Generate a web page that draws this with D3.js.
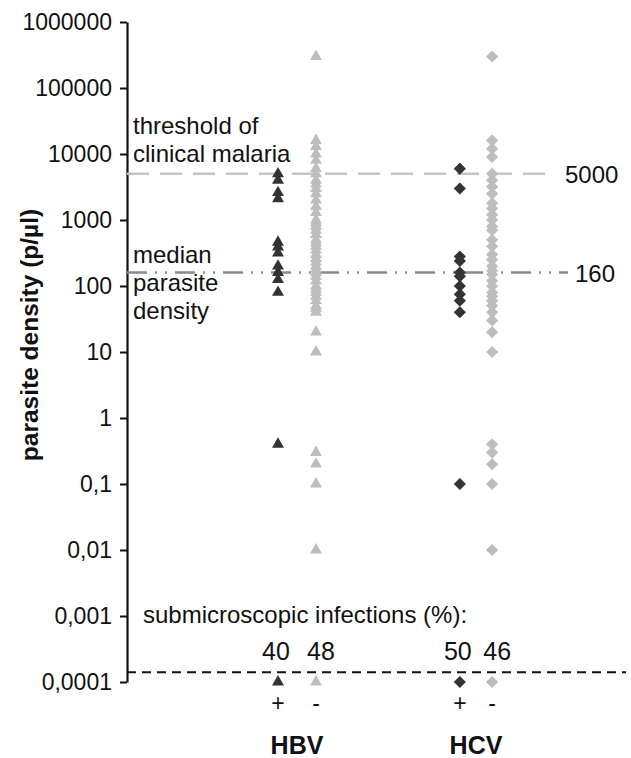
<!DOCTYPE html>
<html>
<head>
<meta charset="utf-8">
<script src="https://cdn.jsdelivr.net/npm/d3@7"></script>
<style>
body { margin: 0; background: #fff; }
svg text { font-family: "Liberation Sans", Arial, sans-serif; fill: #111; }
</style>
</head>
<body>
<svg id="chart" width="631" height="758"></svg>
<script>
// parasite densities per group (p/ul)
var hbvPos = [5000, 4000, 2600, 2100, 460, 390, 315, 200, 160, 125, 80, 0.4, 0.0001];
var hbvNeg = [300000, 16000, 13000, 10000, 8000, 6000, 5000, 4000, 3500, 3000, 2500, 2000, 1600, 1300,
              1000, 900, 800, 700, 600, 500, 450, 400, 350, 300, 260, 230, 200, 180, 160, 140, 120,
              100, 90, 80, 70, 60, 50, 45, 40, 20, 10, 0.3, 0.2, 0.1, 0.01, 0.0001];
var hcvPos = [6000, 3000, 280, 240, 160, 140, 100, 75, 60, 40, 0.1, 0.0001];
var hcvNeg = [300000, 16000, 12000, 9000, 5000, 4000, 3200, 2500, 1800, 1500, 1200, 1000, 800, 700,
              500, 400, 300, 250, 200, 170, 150, 120, 100, 80, 70, 60, 50, 40, 30, 20, 10,
              0.4, 0.3, 0.2, 0.1, 0.01, 0.0001];

var viruses = ["HBV", "HCV"];
var signs = ["+", "-"];
var submicro = [40, 48, 50, 46];   // submicroscopic infections (%) per group
var tickVals = [0.0001, 0.001, 0.01, 0.1, 1, 10, 100, 1000, 10000, 100000, 1000000];
var threshold = 5000;
var median = 160;
var submicroCut = 0.00014;

var groups = [
    {virus: "HBV", sign: "+", values: hbvPos, pct: submicro[0]},
    {virus: "HBV", sign: "-", values: hbvNeg, pct: submicro[1]},
    {virus: "HCV", sign: "+", values: hcvPos, pct: submicro[2]},
    {virus: "HCV", sign: "-", values: hcvNeg, pct: submicro[3]}
];

var svg = d3.select("#chart");
var axisX = 127;

var y = d3.scaleLog().domain([0.0001, 1000000]).range([682, 22]);
var xv = d3.scalePoint().domain(viruses).range([297, 476]);
var xs = d3.scalePoint().domain(signs).range([-19, 19]);
function gx(d) { return xv(d.virus) + xs(d.sign) * (d.virus === "HCV" ? 0.85 : 1); }

var loc = d3.formatLocale({decimal: ",", thousands: "", grouping: [3], currency: ["", ""]});
var fmt = loc.format(".4~f");

//Axis
var yAxis = svg.append("g")
    .attr("transform", "translate(" + axisX + ",0)")
    .call(d3.axisLeft(y).tickValues(tickVals).tickFormat(fmt).tickSize(7).tickSizeOuter(0).tickPadding(8));
yAxis.select(".domain").attr("stroke", "#111").attr("stroke-width", 2.2);
yAxis.selectAll(".tick line").attr("stroke", "#111").attr("stroke-width", 2);
yAxis.selectAll(".tick text")
    .style("font-family", "'Liberation Sans', Arial, sans-serif")
    .style("font-size", "23px")
    .attr("fill", "#111");

svg.append("text")
    .attr("transform", "translate(38," + 335 + ") rotate(-90)")
    .attr("text-anchor", "middle")
    .style("font-size", "24.5px")
    .style("font-weight", "bold")
    .text("parasite density (p/\u00b5l)");

//Reference lines
svg.append("line")
    .attr("x1", axisX).attr("x2", 556)
    .attr("y1", y(threshold)).attr("y2", y(threshold))
    .attr("stroke", "#c4c4c4").attr("stroke-width", 2.5)
    .attr("stroke-dasharray", "22,11");
svg.append("text")
    .attr("x", 565).attr("y", y(threshold) + 9)
    .style("font-size", "24px")
    .text(fmt(threshold));

svg.append("line")
    .attr("x1", axisX).attr("x2", 568)
    .attr("y1", y(median)).attr("y2", y(median))
    .attr("stroke", "#8a8a8a").attr("stroke-width", 2.5)
    .attr("stroke-dasharray", "20,8,2,8,2,8");
svg.append("text")
    .attr("x", 575).attr("y", y(median) + 9)
    .style("font-size", "24px")
    .text(fmt(median));

svg.append("line")
    .attr("x1", axisX).attr("x2", 626)
    .attr("y1", y(submicroCut)).attr("y2", y(submicroCut))
    .attr("stroke", "#111").attr("stroke-width", 2)
    .attr("stroke-dasharray", "9,6");

//Annotations
function lines(arr, x0, ys) {
    arr.forEach(function(t, i) {
        svg.append("text").attr("x", x0).attr("y", ys[i])
            .style("font-size", "24px").text(t);
    });
}
lines(["threshold of", "clinical malaria"], 133, [134, 162]);
lines(["median", "parasite", "density"], 133, [263, 291, 319]);

svg.append("text")
    .attr("x", 143).attr("y", 623)
    .style("font-size", "24px")
    .text("submicroscopic infections (%):");

//Points
var tri = d3.symbol().type(d3.symbolTriangle).size(62);
var dia = d3.symbol().type(d3.symbolSquare).size(74);

groups.forEach(function(g) {
    var col = g.sign === "+" ? "#333333" : "#bdbdbd";
    svg.append("g").selectAll("path")
        .data(g.values)
        .join("path")
        .attr("d", g.virus === "HBV" ? tri : dia)
        .attr("fill", col)
        .attr("transform", function(v) {
            return "translate(" + gx(g) + "," + y(v) + ")" + (g.virus === "HCV" ? " rotate(45)" : "");
        });

    svg.append("text")
        .attr("x", gx(g) + (g.sign === "+" ? -2 : 5)).attr("y", 660)
        .attr("text-anchor", "middle")
        .style("font-size", "25px")
        .text(g.pct);
    svg.append("text")
        .attr("x", gx(g)).attr("y", 711)
        .attr("text-anchor", "middle")
        .style("font-size", "23px")
        .text(g.sign);
});

svg.selectAll(".vlabel")
    .data(viruses)
    .join("text")
    .attr("class", "vlabel")
    .attr("x", function(d) { return xv(d); })
    .attr("y", 754)
    .attr("text-anchor", "middle")
    .style("font-size", "25px")
    .style("font-weight", "bold")
    .text(function(d) { return d; });
</script>
</body>
</html>
